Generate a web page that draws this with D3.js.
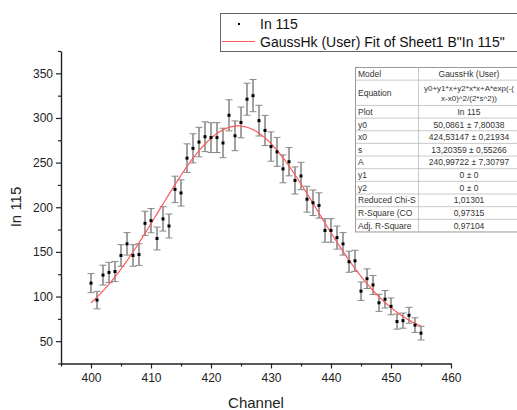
<!DOCTYPE html>
<html><head><meta charset="utf-8">
<script src="https://cdn.jsdelivr.net/npm/d3@7/dist/d3.min.js"></script>
<style>body{margin:0;background:#fff}svg{display:block}text{font-family:"Liberation Sans",Arial,sans-serif}</style>
</head><body>
<svg id="c" width="517" height="410"></svg>
<script>
const channels = [400,401,402,403,404,405,406,407,408,409,410,411,412,413,414,415,416,417,418,419,420,421,422,423,424,425,426,427,428,429,430,431,432,433,434,435,436,437,438,439,440,441,442,443,444,445,446,447,448,449,450,451,452,453,454,455];
const counts = [115,96,124,127,128,146,159,146,147,182,185,165,187,179,220,216,255,266,273,279,278,278,272,303,280,295,321,325,297,286,268,262,243,251,230,235,209,205,202,174,174,166,159,139,140,106,120,113,93,97,89,72,73,79,68,59];
const errors = [10.7,9.8,11.1,11.3,11.3,12.1,12.6,12.1,12.1,13.5,13.6,12.8,13.7,13.4,14.8,14.7,16.0,16.3,16.5,16.7,16.7,16.7,16.5,17.4,16.7,17.2,17.9,18.0,17.2,16.9,16.4,16.2,15.6,15.8,15.2,15.3,14.5,14.3,14.2,13.2,13.2,12.9,12.6,11.8,11.8,10.3,11.0,10.6,9.6,9.8,9.4,8.5,8.5,8.9,8.2,7.7];
// fit parameters (from the table)
const fitY0 = 50.0861, fitX0 = 424.53147, fitS = 13.20359, fitA = 240.99722;
const xTicks = [400,410,420,430,440,450,460];
const yTicks = [50,100,150,200,250,300,350];
const tableLabels = ["Model","Equation","Plot","y0","x0","s","A","y1","y2","Reduced Chi-S","R-Square (CO","Adj. R-Square"];
const tableValues = ["GaussHk (User)",["y0+y1*x+y2*x*x+A*exp(-(","x-x0)^2/(2*s^2))"],"In 115","50,0861 \u00b1 7,80038","424,53147 \u00b1 0,21934","13,20359 \u00b1 0,55266","240,99722 \u00b1 7,30797","0 \u00b1 0","0 \u00b1 0","1,01301","0,97315","0,97104"];
const legendLabels = ["In 115","GaussHk (User) Fit of Sheet1 B\"In 115\""];

const svg = d3.select("#c");
const x = d3.scaleLinear().domain([395,460]).range([61,451]);
const y = d3.scaleLinear().domain([25,375]).range([363.5,51]);

// axes
const xAx = svg.append("g").attr("transform","translate(0,363.5)");
xAx.call(d3.axisBottom(x).tickValues(xTicks).tickSize(5).tickSizeOuter(0).tickFormat(d3.format("d")));
xAx.append("g").call(d3.axisBottom(x).tickValues(d3.range(395,460,10)).tickSize(3).tickFormat("")).select(".domain").remove();
const yAx = svg.append("g").attr("transform","translate(61,0)");
yAx.call(d3.axisLeft(y).tickValues(yTicks).tickSize(5).tickSizeOuter(0));
yAx.append("g").call(d3.axisLeft(y).tickValues(d3.range(25,400,50)).tickSize(3).tickFormat("")).select(".domain").remove();
svg.selectAll(".domain").attr("stroke","#222").attr("stroke-width",1.4);
svg.selectAll(".tick line").attr("stroke","#222").attr("stroke-width",1.2);
svg.selectAll(".tick text").attr("font-size",12).attr("fill","#222").style("font-family","'Liberation Sans',Arial,sans-serif");
xAx.selectAll(".tick text").attr("dy","0.9em");

svg.append("text").attr("x",256).attr("y",408).attr("text-anchor","middle").attr("font-size",15).attr("fill","#222").text("Channel");
svg.append("text").attr("transform","translate(21,207) rotate(-90)").attr("text-anchor","middle").attr("font-size",15).attr("fill","#222").text("In 115");

// error bars
const pts = channels.map((c,i)=>({c, v:counts[i], e:errors[i]}));
const eb = svg.append("g");
eb.selectAll("line.v").data(pts).join("line").attr("x1",d=>x(d.c)).attr("x2",d=>x(d.c))
  .attr("y1",d=>y(d.v+d.e)).attr("y2",d=>y(d.v-d.e)).attr("stroke","#444").attr("stroke-width",1);
["t","b"].forEach(k=>{
  eb.selectAll("line.c"+k).data(pts).join("line").attr("class","c"+k)
    .attr("x1",d=>x(d.c)-3.5).attr("x2",d=>x(d.c)+3.5)
    .attr("y1",d=>y(k==="t"?d.v+d.e:d.v-d.e)).attr("y2",d=>y(k==="t"?d.v+d.e:d.v-d.e))
    .attr("stroke","#888").attr("stroke-width",1);
});

// fit curve
const fx = d3.range(400,455.01,0.25);
const line = d3.line().x(d=>x(d)).y(d=>y(fitY0 + fitA*Math.exp(-((d-fitX0)**2)/(2*fitS*fitS))));
svg.append("path").datum(fx).attr("d",line).attr("fill","none").attr("stroke","#ff5a5a").attr("stroke-width",1.2);

// points
svg.append("g").selectAll("rect").data(pts).join("rect")
  .attr("x",d=>x(d.c)-1.5).attr("y",d=>y(d.v)-1.5).attr("width",3).attr("height",3).attr("fill","#000");

// legend
const lg = svg.append("g");
lg.append("rect").attr("x",220.5).attr("y",13.5).attr("width",310).attr("height",38).attr("fill","#fff").attr("stroke","#666").attr("stroke-width",1);
lg.append("rect").attr("x",238).attr("y",23).attr("width",2).attr("height",2).attr("fill","#000");
lg.append("line").attr("x1",222).attr("x2",255).attr("y1",41.5).attr("y2",41.5).attr("stroke","#ff5a5a").attr("stroke-width",1.2);
lg.selectAll("text").data(legendLabels).join("text").attr("x",260).attr("y",(d,i)=>29+i*18)
  .attr("font-size",14).attr("fill","#111").text(d=>d);

// table
const tb = svg.append("g");
const tLeft = 355.5, tSplit = 418.5, tRight = 530, vCenter = 469;
const rh = 12.65;
const rowTops = [67.5, 67.5+rh, 67.5+3*rh];
for (let i=1;i<=10;i++) rowTops.push(67.5 + (3+i)*rh);
tb.append("rect").attr("x",tLeft).attr("y",rowTops[0]).attr("width",tRight-tLeft).attr("height",rowTops[12]-rowTops[0]).attr("fill","#fff").attr("stroke","#999").attr("stroke-width",1);
tb.selectAll("line.r").data(rowTops.slice(1,12)).join("line").attr("x1",tLeft).attr("x2",tRight).attr("y1",d=>d).attr("y2",d=>d).attr("stroke","#bbb").attr("stroke-width",0.8);
tb.append("line").attr("x1",tSplit).attr("x2",tSplit).attr("y1",rowTops[0]).attr("y2",rowTops[12]).attr("stroke","#bbb").attr("stroke-width",0.8);
tableLabels.forEach((lab,i)=>{
  const cy = (rowTops[i]+rowTops[i+1])/2;
  tb.append("text").attr("x",tLeft+2.5).attr("y",cy+3.1).attr("font-size",8.5).attr("fill","#333").text(lab);
  const v = tableValues[i];
  if (Array.isArray(v)) {
    v.forEach((s,j)=>tb.append("text").attr("x",vCenter).attr("y",cy-5+j*10+2.9).attr("text-anchor","middle").attr("font-size",8).attr("fill","#333").text(s));
  } else {
    tb.append("text").attr("x",vCenter).attr("y",cy+3.1).attr("text-anchor","middle").attr("font-size",8.5).attr("fill","#333").text(v);
  }
});
</script>
</body></html>
